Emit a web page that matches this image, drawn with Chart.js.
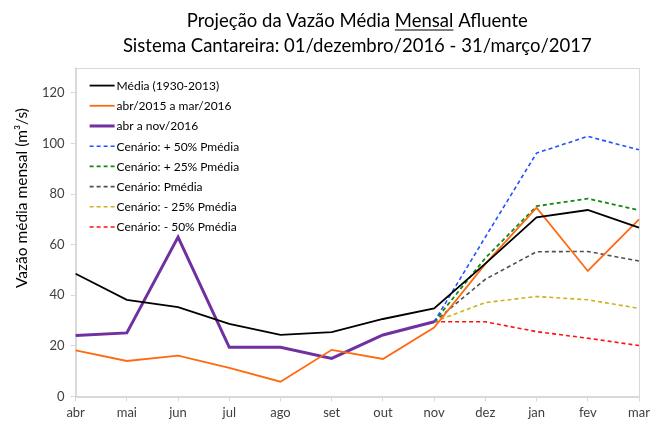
<!DOCTYPE html>
<html>
<head>
<meta charset="utf-8">
<script src="https://cdn.jsdelivr.net/npm/chart.js@4/dist/chart.umd.min.js"></script>
<style>
  html, body { margin: 0; padding: 0; background: #fff; }
  #wrap { width: 665px; height: 438px; }
</style>
</head>
<body>
<div id="wrap"><canvas id="vazao"></canvas></div>
<script>
// meses (abr a mar)
var meses = ['abr', 'mai', 'jun', 'jul', 'ago', 'set', 'out', 'nov', 'dez', 'jan', 'fev', 'mar'];

// séries (m3/s)
var media19302013 = [48.5, 38.2, 35.3, 28.7, 24.3, 25.4, 30.6, 34.8, 52.5, 70.8, 73.7, 66.7];
var abr2015mar2016 = [18.2, 14.0, 16.1, 11.3, 5.8, 18.4, 14.8, 27.2, 52.4, 74.6, 49.6, 70.0];
var abrNov2016 = [24.1, 25.1, 63.0, 19.4, 19.4, 15.0, 24.3, 29.5, null, null, null, null];
var cenarioMais50 = [null, null, null, null, null, null, null, 29.5, 63.0, 96.2, 102.8, 97.5];
var cenarioMais25 = [null, null, null, null, null, null, null, 29.5, 54.7, 75.2, 78.2, 73.6];
var cenarioMedia = [null, null, null, null, null, null, null, 29.5, 46.3, 57.2, 57.3, 53.5];
var cenarioMenos25 = [null, null, null, null, null, null, null, 29.5, 37.1, 39.5, 38.2, 34.8];
var cenarioMenos50 = [null, null, null, null, null, null, null, 29.5, 29.5, 25.6, 23.0, 20.1];

var yTicks = [0, 20, 40, 60, 80, 100, 120];

var fonte = 'Lato, "Open Sans", sans-serif';
var cinzaEixo = '#d9d9d9';
var corTexto = '#404040';
var tituloY = 'Vazão média mensal (m³/s)';

function serie(label, data, color, width, dashed) {
    return {
        label: label,
        data: data,
        borderColor: color,
        backgroundColor: color,
        borderWidth: width,
        borderDash: dashed ? [4, 3] : [],
        pointRadius: 0,
        tension: 0,
        fill: false,
        spanGaps: false
    };
}

// moldura, legenda dentro da área, título do eixo y e sublinhado de "Mensal"
var extras = {
    id: 'extras',
    beforeDatasetsDraw: function(chart) {
        var a = chart.chartArea, ctx = chart.ctx;
        ctx.save();
        ctx.strokeStyle = cinzaEixo;
        ctx.lineWidth = 1;
        ctx.strokeRect(Math.round(a.left) + 0.5, Math.round(a.top) + 0.5,
            Math.round(a.right - a.left), Math.round(a.bottom - a.top));
        ctx.restore();
    },
    afterDraw: function(chart) {
        var ctx = chart.ctx, a = chart.chartArea;

        // legenda
        ctx.save();
        ctx.font = '12px ' + fonte;
        ctx.textBaseline = 'middle';
        ctx.textAlign = 'left';
        chart.data.datasets.forEach(function(ds, i) {
            var y = a.top + 18 + i * 20.2;
            ctx.strokeStyle = ds.borderColor;
            ctx.lineWidth = ds.borderWidth;
            ctx.setLineDash(ds.borderDash);
            ctx.beginPath();
            ctx.moveTo(a.left + 14, y);
            ctx.lineTo(a.left + 39, y);
            ctx.stroke();
            ctx.fillStyle = '#000';
            ctx.fillText(ds.label, a.left + 41, y + 0.5);
        });
        ctx.restore();

        // título do eixo y
        ctx.save();
        ctx.translate(22, 198);
        ctx.rotate(-Math.PI / 2);
        ctx.font = '15.5px ' + fonte;
        ctx.fillStyle = '#000';
        ctx.textAlign = 'center';
        ctx.textBaseline = 'middle';
        ctx.fillText(tituloY, 0, 0);
        ctx.restore();

        // sublinhado
        var t = chart.titleBlock;
        if (!t) return;
        var linha = 'Projeção da Vazão Média Mensal Afluente';
        ctx.save();
        ctx.font = '18.5px ' + fonte;
        var total = ctx.measureText(linha).width;
        var antes = ctx.measureText('Projeção da Vazão Média ').width;
        var w = ctx.measureText('Mensal').width;
        var cx = (t.left + t.right) / 2;
        var x0 = cx - total / 2 + antes;
        var y = t.top + t.options.padding.top + 21;
        ctx.strokeStyle = '#000';
        ctx.lineWidth = 1.2;
        ctx.beginPath();
        ctx.moveTo(x0, y);
        ctx.lineTo(x0 + w, y);
        ctx.stroke();
        ctx.restore();
    }
};

var ctx = document.getElementById('vazao').getContext('2d');
var chart = new Chart(ctx, {
    type: 'line',
    data: {
        labels: meses,
        datasets: [
            serie('Média (1930-2013)', media19302013, '#000000', 1.8, false),
            serie('abr/2015 a mar/2016', abr2015mar2016, '#ff6a10', 1.8, false),
            serie('abr a nov/2016', abrNov2016, '#7030a0', 3, false),
            serie('Cenário: + 50% Pmédia', cenarioMais50, '#2050ff', 1.6, true),
            serie('Cenário: + 25% Pmédia', cenarioMais25, '#108a10', 1.8, true),
            serie('Cenário: Pmédia', cenarioMedia, '#505050', 1.6, true),
            serie('Cenário: - 25% Pmédia', cenarioMenos25, '#d0b020', 1.6, true),
            serie('Cenário: - 50% Pmédia', cenarioMenos50, '#ff1010', 1.6, true)
        ]
    },
    options: {
        responsive: true,
        maintainAspectRatio: false,
        animation: false,
        layout: { padding: { left: 36, right: 26, top: 4, bottom: 13 } },
        plugins: {
            tooltip: { enabled: false },
            legend: { display: false },
            title: {
                display: true,
                fullSize: false,
                text: ['Projeção da Vazão Média Mensal Afluente', 'Sistema Cantareira: 01/dezembro/2016 - 31/março/2017'],
                color: '#000',
                font: { family: fonte, size: 18.5, weight: 'normal', lineHeight: 1.34 },
                padding: { top: 5, bottom: 9 }
            }
        },
        scales: {
            x: {
                offset: false,
                grid: {
                    display: true,
                    drawOnChartArea: false,
                    drawTicks: true,
                    tickLength: 5,
                    color: cinzaEixo
                },
                border: { color: cinzaEixo },
                ticks: {
                    color: corTexto,
                    font: { family: fonte, size: 13 },
                    maxRotation: 0,
                    autoSkip: false,
                    padding: 4
                }
            },
            y: {
                min: 0,
                max: 130,
                afterBuildTicks: function(axis) {
                    axis.ticks = yTicks.map(function(v) { return { value: v }; });
                },
                grid: {
                    display: true,
                    drawOnChartArea: false,
                    drawTicks: true,
                    tickLength: 5,
                    color: cinzaEixo
                },
                border: { color: cinzaEixo },
                ticks: {
                    color: corTexto,
                    font: { family: fonte, size: 13 },
                    padding: 6
                }
            }
        }
    },
    plugins: [extras]
});
</script>
</body>
</html>
